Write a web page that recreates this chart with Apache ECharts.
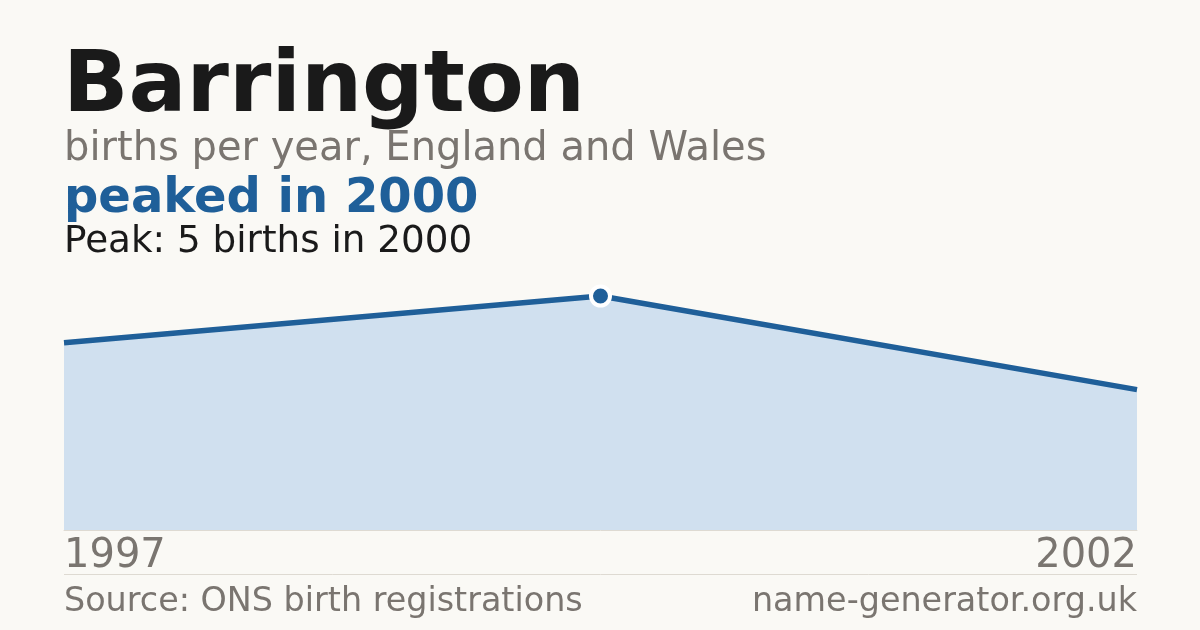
<!DOCTYPE html>
<html>
<head>
<meta charset="utf-8">
<script src="https://cdn.jsdelivr.net/npm/echarts@6/dist/echarts.min.js"></script>
<style>
  html, body { margin: 0; padding: 0; background: #faf9f5; }
  #chart { width: 1200px; height: 630px; }
</style>
</head>
<body>
<div id="chart"></div>
<script>
// data
const years = ["1997", "2000", "2002"];
const births = [4, 5, 3];
const peakYear = "2000";

const FONT = "DejaVu Sans";
const BLUE = "#1f5f99";
const GREY = "#7a7570";

const chart = echarts.init(document.getElementById("chart"));

const peakIdx = years.indexOf(peakYear);
const seriesData = births.map((v, i) => {
  if (i !== peakIdx) return v;
  return {
    value: v,
    symbol: "circle",
    symbolSize: 19,
    itemStyle: { color: BLUE, borderColor: "#ffffff", borderWidth: 4 }
  };
});

function txt(text, x, y, size, color, weight, align) {
  return {
    type: "text",
    x: x,
    y: y,
    silent: true,
    style: {
      text: text,
      fill: color,
      font: `${weight} ${size}px "${FONT}"`,
      align: align || "left",
      verticalAlign: "top"
    }
  };
}

const option = {
  backgroundColor: "#faf9f5",
  animation: false,
  grid: { left: 64, right: 63, top: 296, bottom: 100 },
  xAxis: {
    type: "category",
    data: years,
    boundaryGap: false,
    axisLine: { show: true, lineStyle: { color: "#dedad2", width: 1 } },
    axisTick: { show: false },
    splitLine: { show: false },
    axisLabel: {
      margin: 7,
      fontFamily: FONT,
      fontSize: 40,
      color: GREY,
      interval: 0,
      formatter: (v, i) => (i === 0 || i === years.length - 1 ? v : ""),
      alignMinLabel: "left",
      alignMaxLabel: "right"
    }
  },
  yAxis: {
    type: "value",
    min: 0,
    max: 5,
    show: false,
    splitLine: { show: false }
  },
  series: [
    {
      type: "line",
      data: seriesData,
      symbol: "circle",
      symbolSize: 0,
      showSymbol: true,
      lineStyle: { color: BLUE, width: 5.5 },
      itemStyle: { color: BLUE },
      areaStyle: { color: "#d0e0ef", opacity: 1 },
      z: 3
    }
  ],
  graphic: [
    txt("Barrington", 63, 46, 86, "#1a1a1a", "bold"),
    txt("births per year, England and Wales", 64, 130, 40, GREY, "normal"),
    txt("peaked in " + peakYear, 64, 176, 48, BLUE, "bold"),
    txt("Peak: " + births[peakIdx] + " births in " + peakYear, 64, 224, 37.3, "#1a1a1a", "normal"),
    {
      type: "line",
      silent: true,
      shape: { x1: 64, y1: 574.5, x2: 1137, y2: 574.5 },
      style: { stroke: "#dedad2", lineWidth: 1 }
    },
    txt("Source: ONS birth registrations", 64, 586, 33.4, GREY, "normal"),
    txt("name-generator.org.uk", 1137, 586, 33.4, GREY, "normal", "right")
  ]
};

chart.setOption(option);
</script>
</body>
</html>
